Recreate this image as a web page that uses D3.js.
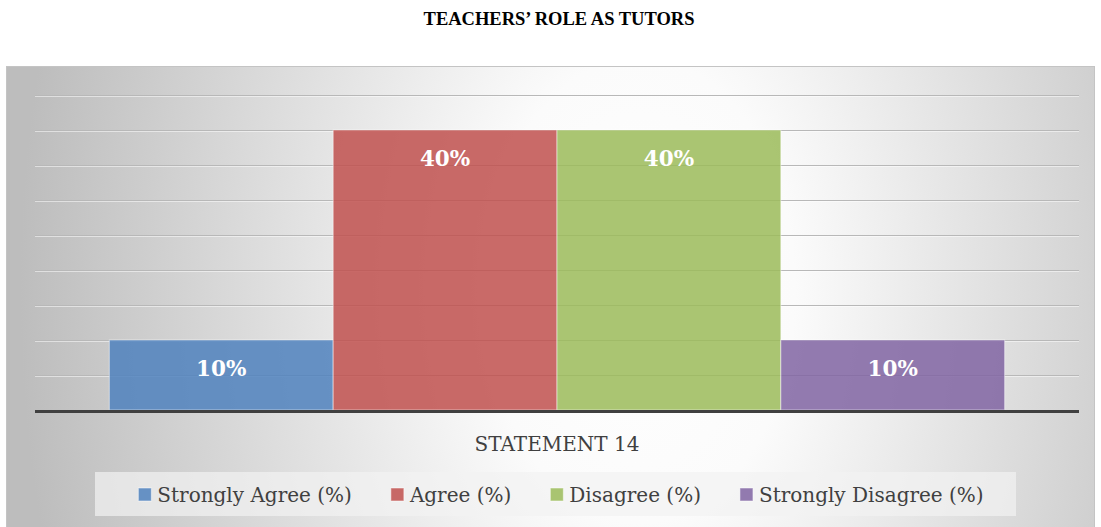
<!DOCTYPE html>
<html>
<head>
<meta charset="utf-8">
<script src="https://cdn.jsdelivr.net/npm/d3@7"></script>
<style>
  body { margin: 0; background: #fff; }
  svg { display: block; }
</style>
</head>
<body>
<svg id="chart"></svg>
<script>
// Data
const categories = ["STATEMENT 14"];
const series = ["Strongly Agree (%)", "Agree (%)", "Disagree (%)", "Strongly Disagree (%)"];
const values = [0.10, 0.40, 0.40, 0.10];
const colors = ["#4f81bd", "#c0504d", "#9bbb59", "#8064a2"];
const yTicks = [0, 0.05, 0.10, 0.15, 0.20, 0.25, 0.30, 0.35, 0.40, 0.45];

const width = 1101;
const height = 527;

const svg = d3.select("#chart").attr("width", width).attr("height", height);

// Title above the chart frame
svg.append("text")
  .attr("x", 559)
  .attr("y", 25)
  .attr("text-anchor", "middle")
  .attr("font-family", "Liberation Serif, Times New Roman, serif")
  .attr("font-weight", "bold")
  .attr("font-size", 18.5)
  .attr("fill", "#000")
  .text("TEACHERS\u2019 ROLE AS TUTORS");

// Background gradient for the chart frame
const defs = svg.append("defs");
const grad = defs.append("radialGradient")
  .attr("id", "bg")
  .attr("gradientUnits", "userSpaceOnUse")
  .attr("cx", 640).attr("cy", 290).attr("r", 620)
  .attr("gradientTransform", "translate(640,290) scale(1,1.5) translate(-640,-290)");
grad.append("stop").attr("offset", 0).attr("stop-color", "#ffffff");
grad.append("stop").attr("offset", 0.25).attr("stop-color", "#fbfbfb");
grad.append("stop").attr("offset", 1).attr("stop-color", "#bdbdbd");

svg.append("rect")
  .attr("x", 6.5).attr("y", 66.5)
  .attr("width", 1088).attr("height", 470)
  .attr("fill", "url(#bg)")
  .attr("stroke", "#c4c4c4")
  .attr("stroke-width", 1);

// Scales
const plotLeft = 35, plotRight = 1079;
const y = d3.scaleLinear().domain([0, 0.45]).range([410, 95]);
const x0 = d3.scaleBand().domain(categories).range([plotLeft, plotRight])
  .paddingInner(0).paddingOuter(0.083);
const x1 = d3.scaleBand().domain(series).range([0, x0.bandwidth()]).padding(0);

// Gridlines
const grid = svg.append("g");
yTicks.filter(t => t > 0).forEach(t => {
  grid.append("line")
    .attr("x1", plotLeft).attr("x2", plotRight)
    .attr("y1", Math.round(y(t)) + 0.5).attr("y2", Math.round(y(t)) + 0.5)
    .attr("stroke", "#b8b8b8").attr("stroke-width", 1);
  grid.append("line")
    .attr("x1", plotLeft).attr("x2", plotRight)
    .attr("y1", Math.round(y(t)) + 1.5).attr("y2", Math.round(y(t)) + 1.5)
    .attr("stroke", "#ffffff").attr("stroke-opacity", 0.5).attr("stroke-width", 1);
});

// Bars
const rows = series.map((s, i) => ({ series: s, value: values[i], color: colors[i] }));
const group = svg.append("g")
  .attr("transform", `translate(${x0(categories[0])},0)`);

group.selectAll("rect")
  .data(rows)
  .join("rect")
  .attr("x", d => x1(d.series))
  .attr("y", d => y(d.value))
  .attr("width", x1.bandwidth())
  .attr("height", d => y(0) - y(d.value))
  .attr("fill", d => d.color)
  .attr("fill-opacity", 0.85)
  .attr("stroke", "#ffffff")
  .attr("stroke-opacity", 0.5)
  .attr("stroke-width", 1);

// Data labels
group.selectAll("text.label")
  .data(rows)
  .join("text")
  .attr("class", "label")
  .attr("x", d => x1(d.series) + x1.bandwidth() / 2)
  .attr("y", d => y(d.value) + 36)
  .attr("text-anchor", "middle")
  .attr("font-family", "DejaVu Serif, serif")
  .attr("font-weight", "bold")
  .attr("font-size", 21.5)
  .attr("fill", "#ffffff")
  .text(d => d3.format(".0%")(d.value));

// Baseline
svg.append("line")
  .attr("x1", plotLeft).attr("x2", plotRight)
  .attr("y1", y(0) + 1.5).attr("y2", y(0) + 1.5)
  .attr("stroke", "#404040").attr("stroke-width", 3);

// Category axis label
svg.append("text")
  .attr("x", x0(categories[0]) + x0.bandwidth() / 2)
  .attr("y", 451)
  .attr("text-anchor", "middle")
  .attr("font-family", "DejaVu Serif, serif")
  .attr("font-size", 20)
  .attr("fill", "#404040")
  .text(categories[0]);

// Legend
svg.append("rect")
  .attr("x", 95).attr("y", 472)
  .attr("width", 921).attr("height", 44)
  .attr("fill", "#f2f2f2").attr("fill-opacity", 0.7);

const legend = svg.append("g");
const items = legend.selectAll("g")
  .data(rows)
  .join("g");
items.append("rect")
  .attr("width", 13).attr("height", 13)
  .attr("y", 488)
  .attr("fill", d => d.color)
  .attr("fill-opacity", 0.85)
  .attr("stroke", "#fff").attr("stroke-opacity", 0.5);
items.append("text")
  .attr("x", 19)
  .attr("y", 502)
  .attr("font-family", "DejaVu Serif, serif")
  .attr("font-size", 20)
  .attr("fill", "#404040")
  .text(d => d.series);

// Lay the legend items out in one row, centred in the box
let cursor = 0;
const offsets = [];
items.each(function() {
  offsets.push(cursor);
  const w = d3.select(this).select("text").node().getComputedTextLength();
  cursor += 19 + w + 39;
});
const total = cursor - 39;
const start = 561 - total / 2;
items.attr("transform", (d, i) => `translate(${start + offsets[i]},0)`);
</script>
</body>
</html>
